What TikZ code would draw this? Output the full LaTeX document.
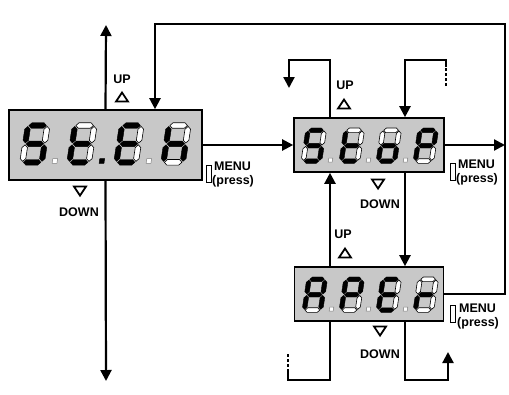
\documentclass[tikz,border=0pt]{standalone}
\usepackage{fontspec}
\setmainfont{Liberation Sans}
\usetikzlibrary{arrows.meta}
\definecolor{dispgray}{RGB}{200,200,200}
\def\sw{1.05}
\def\st{0.30}
\def\sg{0.05}
\newcommand\segH[2]{\path[#1] (\sg,#2) -- (\sg+\st/2,#2-\st/2) -- (\sw-\sg-\st/2,#2-\st/2) -- (\sw-\sg,#2) -- (\sw-\sg-\st/2,#2+\st/2) -- (\sg+\st/2,#2+\st/2) -- cycle;}
\newcommand\segV[4]{\path[#1] (#2,#3+\sg) -- (#2+\st/2,#3+\sg+\st/2) -- (#2+\st/2,#4-\sg-\st/2) -- (#2,#4-\sg) -- (#2-\st/2,#4-\sg-\st/2) -- (#2-\st/2,#3+\sg+\st/2) -- cycle;}
\def\segdigit#1#2#3#4#5#6#7#8{%
  \segH{s#1}{0}\segV{s#2}{\sw}{0}{1}\segV{s#3}{\sw}{1}{2}\segH{s#4}{2}%
  \segV{s#5}{0}{1}{2}\segV{s#6}{0}{0}{1}\segH{s#7}{1}%
  \path[d#8] (1.62,1.80) rectangle (1.88,2.06);}
\newcommand\sdigit[4]{\begin{scope}[shift={(#1,#2)},scale=#3,xslant=0.15]\segdigit#4\end{scope}}
\newcommand\uptri[2]{\draw[tri] (#1-6,#2+4.5) -- (#1+6,#2+4.5) -- (#1,#2-4.5) -- cycle;}
\newcommand\dntri[2]{\draw[tri] (#1-6,#2-4.5) -- (#1+6,#2-4.5) -- (#1,#2+4.5) -- cycle;}
\tikzset{
  disp/.style={draw=black, line width=1.6pt, fill=dispgray, rectangle, inner sep=0pt},
  conn/.style={line width=2.2pt},
  arr/.style={conn, -{Triangle[length=11pt,width=11pt]}},
  dashes/.style={line width=1.5pt, dash pattern=on 3pt off 2pt},
  lbl/.style={font=\fontsize{12.5}{12.5}\selectfont\bfseries, inner sep=0pt},
  s1/.style={fill=black, draw=black, line width=0.4pt},
  s0/.style={fill=white, draw=black, line width=0.6pt},
  d0/.style={fill=white, draw=gray, line width=0.5pt},
  d1/.style={fill=black, draw=black, line width=0.5pt},
  dx/.style={},
  btn/.style={draw=black, line width=1.3pt, fill=white, minimum width=5pt, minimum height=17pt, inner sep=0pt},
  tri/.style={line width=1.8pt, fill=white}
}
\begin{document}
\begin{tikzpicture}[x=1pt,y=-1pt]
\useasboundingbox[fill=white] (0,0) rectangle (509,394);
% displays
\node[disp, minimum width=193pt, minimum height=70pt] (box1) at (105.5,145) {};
\node[disp, minimum width=150pt, minimum height=54pt] (box2) at (369,145) {};
\node[disp, minimum width=149pt, minimum height=54pt] (box3) at (369,294) {};
% digits box1: S t. E h
\sdigit{28}{125.5}{18.4}{10110110}
\sdigit{75}{125.5}{18.4}{00011111}
\sdigit{122}{125.5}{18.4}{10011110}
\sdigit{169}{125.5}{18.4}{0010111x}
% digits box2: S t o P
\sdigit{308}{130.3}{15.4}{10110110}
\sdigit{346}{130.3}{15.4}{00011110}
\sdigit{383}{130.3}{15.4}{00111010}
\sdigit{420}{130.3}{15.4}{1100111x}
% digits box3: A P E r
\sdigit{309}{279.3}{15.4}{11101110}
\sdigit{346}{279.3}{15.4}{11001110}
\sdigit{383}{279.3}{15.4}{10011110}
\sdigit{420}{279.3}{15.4}{0000101x}
% helper coordinates
\coordinate (uptip) at (106,25);
\coordinate (dntip) at (106,381);
\coordinate (tl) at (155,24);
\coordinate (tr) at (505,24);
\coordinate (cA) at (330,0);
\coordinate (cB) at (405,0);
\coordinate (h1) at (330,60);
\coordinate (h2) at (289,60);
\coordinate (h3) at (289,88);
\coordinate (h4) at (446,86);
\coordinate (h7) at (446,67);
\coordinate (h5) at (446,60);
\coordinate (h6) at (405,60);
\coordinate (b1) at (330,380);
\coordinate (b2) at (288,380);
\coordinate (b3) at (288,372);
\coordinate (b4) at (288,353);
\coordinate (b5) at (405,380);
\coordinate (b6) at (448,380);
\coordinate (b7) at (448,352);
% connectors
\draw[arr] (box1.north) -- (uptip);
\draw[arr] (box1.south) -- (dntip);
\draw[arr] (box3.east) -- (box3.east -| tr) -- (tr) -- (tl) -- (tl |- box1.north);
\draw[arr] (box1.east) -- (box2.west);
\draw[arr] (box2.east) -- (box2.east -| tr);
\draw[arr] (box2.north -| h1) -- (h1) -- (h2) -- (h3);
\draw[dashes] (h4) -- (h7);
\draw[arr] (h7) -- (h5) -- (h6) -- (h6 |- box2.north);
\draw[arr] (box3.north -| cA) -- (box2.south -| cA);
\draw[arr] (box2.south -| cB) -- (box3.north -| cB);
\draw[conn] (box3.south -| b1) -- (b1) -- (b2) -- (b3);
\draw[dashes] (b3) -- (b4);
\draw[arr] (box3.south -| b5) -- (b5) -- (b6) -- (b7);
% UP / DOWN markers
\node[lbl] (up1) at (122,79) {UP};
\uptri{122}{97}
\dntri{80}{191}
\node[lbl] (down1) at (79,212) {DOWN};
\node[lbl] (up2) at (345,85) {UP};
\uptri{344}{104}
\dntri{378}{184}
\node[lbl] (down2) at (380,204) {DOWN};
\node[lbl] (up3) at (343,234) {UP};
\uptri{345}{253}
\dntri{380}{331}
\node[lbl] (down3) at (380,354) {DOWN};
% MENU buttons
\node[btn] (btn1) at (209,174) {};
\node[lbl, anchor=west] (menu1) at (214,166) {MENU};
\node[lbl, anchor=west] (press1) at (212,181) {(press)};
\node[btn] (btn2) at (453,172) {};
\node[lbl, anchor=west] (menu2) at (458,164) {MENU};
\node[lbl, anchor=west] (press2) at (456,179) {(press)};
\node[btn] (btn3) at (453,314) {};
\node[lbl, anchor=west] (menu3) at (459,308) {MENU};
\node[lbl, anchor=west] (press3) at (457,323) {(press)};
\end{tikzpicture}
\end{document}
